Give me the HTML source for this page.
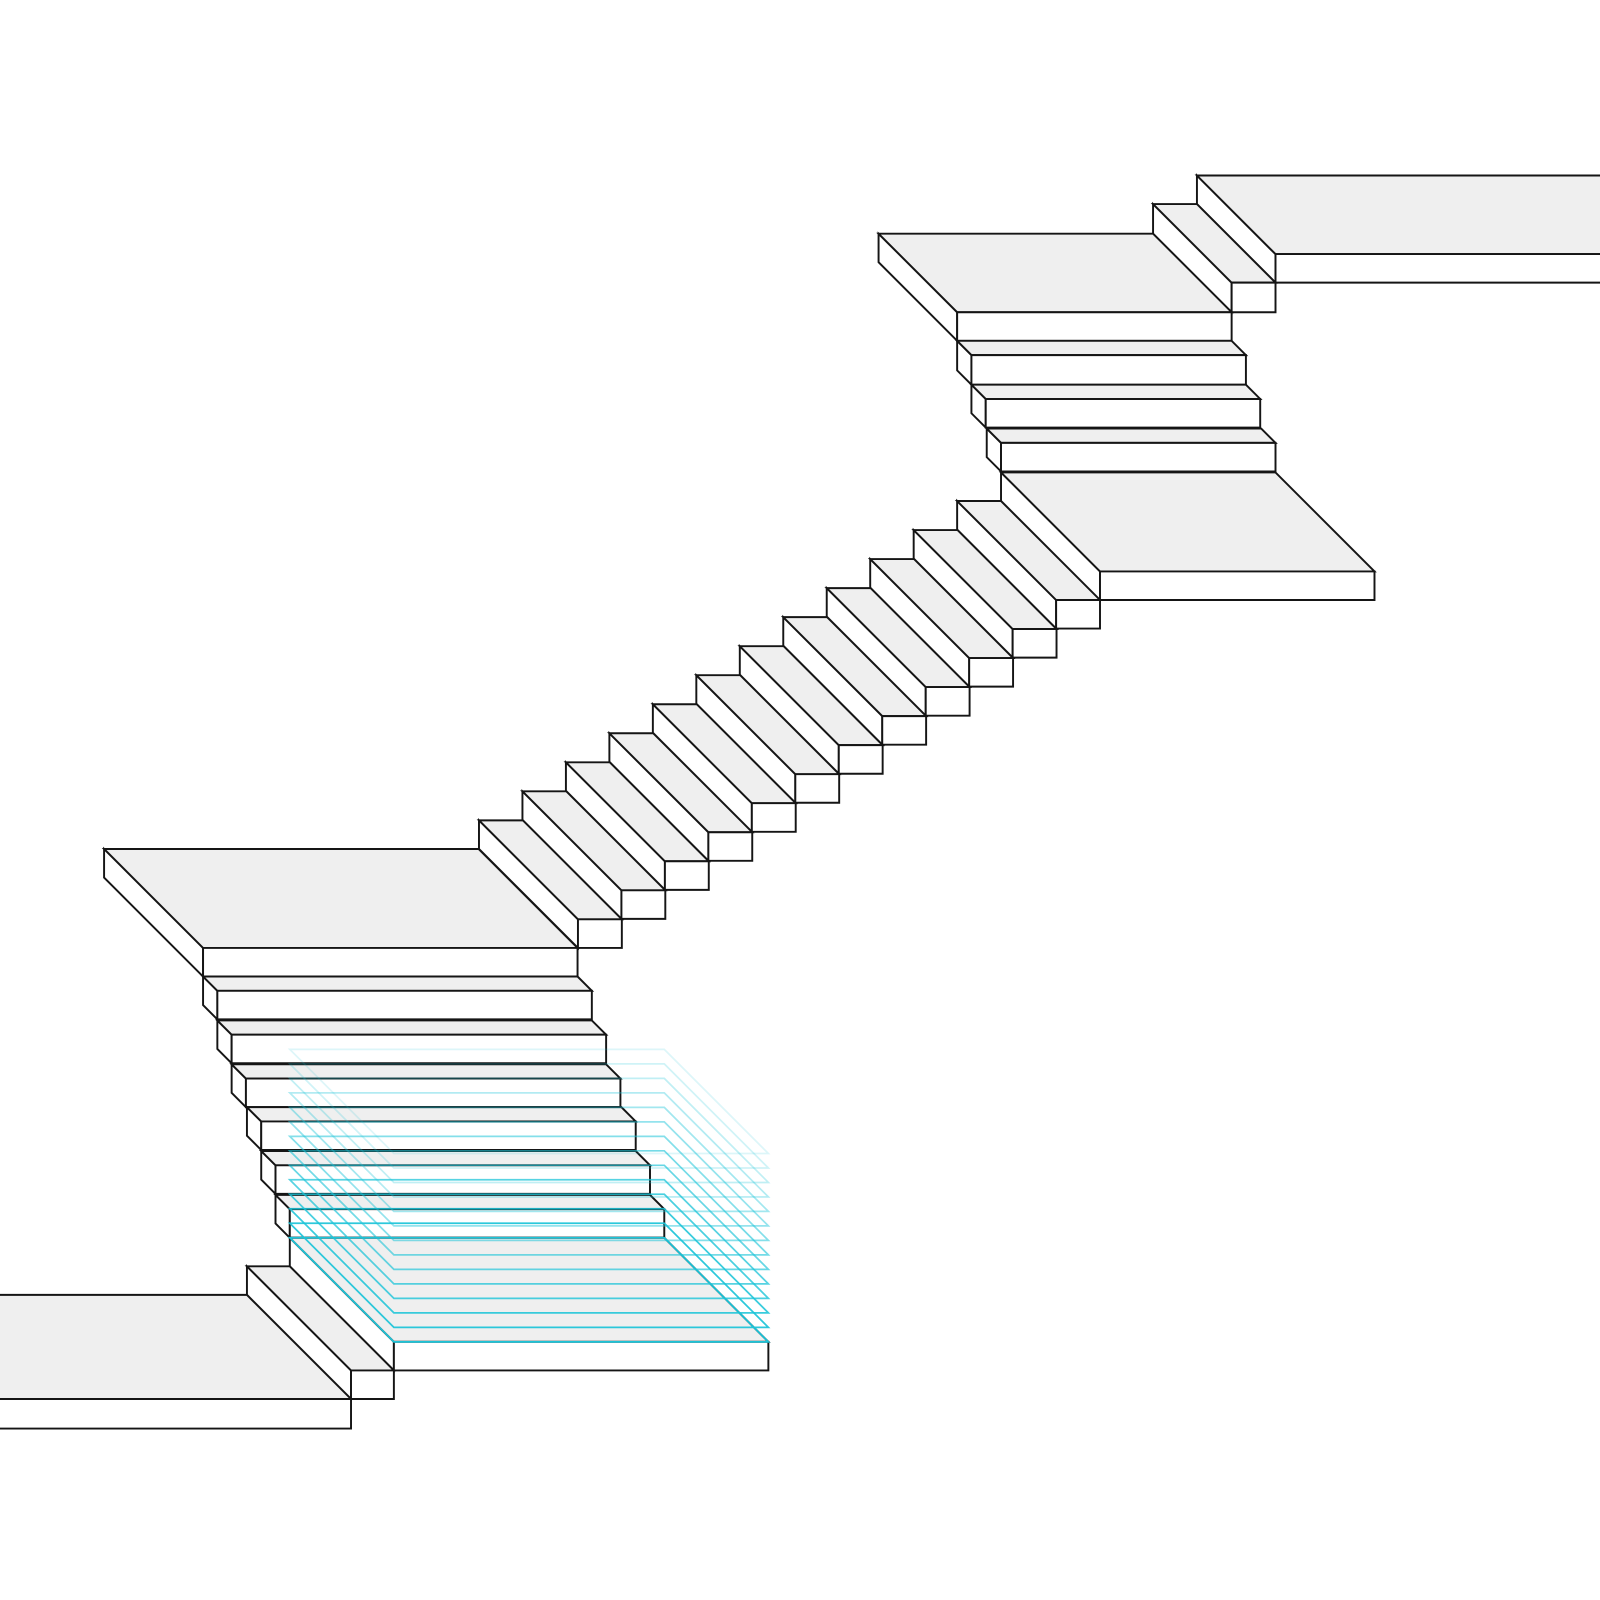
<!DOCTYPE html>
<html><head><meta charset="utf-8"><style>
html,body{margin:0;padding:0;background:#fff;width:1600px;height:1600px;overflow:hidden}
svg{display:block}
</style></head><body>
<svg id="s" width="1600" height="1600" viewBox="0 0 1568 1568" xmlns="http://www.w3.org/2000/svg">
<g id="g" stroke="#151515" stroke-width="1.9" stroke-linejoin="miter"></g>
<g id="c" fill="none" stroke="#1cc4d8" stroke-width="1.7"></g>
</svg>
<script>
var g=document.getElementById('g'),c=document.getElementById('c'),NS='http://www.w3.org/2000/svg';
function poly(par,pts,fill){var p=document.createElementNS(NS,'polygon');p.setAttribute('points',pts.map(function(a){return a.join(',')}).join(' '));p.setAttribute('fill',fill);par.appendChild(p);return p;}
function box(x0,y0,w,d,h){
 poly(g,[[x0-d,y0-d],[x0-d,y0-d+h],[x0,y0+h],[x0,y0]],'#fff');
 poly(g,[[x0-d,y0-d],[x0-d+w,y0-d],[x0+w,y0],[x0,y0]],'#efefef');
 poly(g,[[x0,y0],[x0+w,y0],[x0+w,y0+h],[x0,y0+h]],'#fff');
}
// top right landing
box(1250,249,400,77,28);
box(1207,277,43,77,29);
box(938,306,269,77,28);
// straight-down steps
box(952,348,269,14,29);
box(966,391,269,14,28);
box(981,434,269,14,28);
// middle right landing
box(1078,560,269,97,28);
// long flight
for(var k=0;k<12;k++){box(1035-42.6*k,588+28.45*k,43,97,28);}
// left middle landing
box(199,929,367,97,28);
var xs=[213,227,241,256,270,284],ys=[971,1014,1057,1099,1142,1185];
for(var i=0;i<6;i++){box(xs[i],ys[i],367,14,28);}
// bottom landing
box(386,1315,367,102,28);
box(344,1343,42,102,28);
box(-200,1371,544,102,29);
// cyan ghosts
var n=14;
for(var j=0;j<n;j++){
 var y=1213-j*14.2;
 var p=poly(c,[[284,y],[651,y],[753,y+102],[386,y+102]],'none');
 var op=1-j/(n)*0.92;
 p.setAttribute('stroke-opacity',op.toFixed(2));
}
</script>
</body></html>
